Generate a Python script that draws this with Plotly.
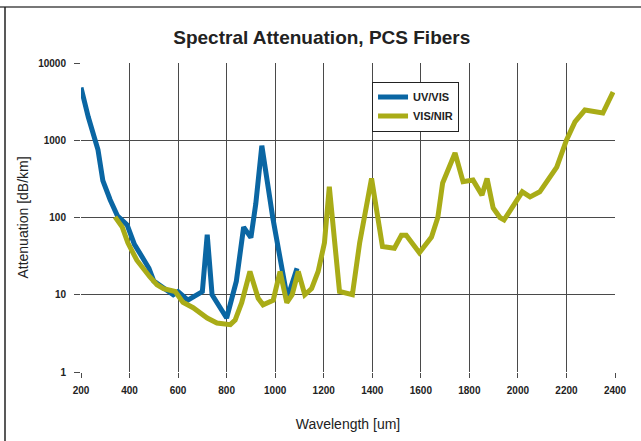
import plotly.graph_objects as go

uv_x = [200, 230, 270, 290, 320, 350, 390, 420, 460, 480, 500, 530, 560, 580, 600, 640, 700, 720, 740, 800, 840, 870, 900, 920, 945, 990, 1050, 1090]
uv_y = [4800, 2000, 750, 300, 170, 105, 80, 45, 28, 22, 15, 13, 11, 10, 11, 8.5, 11, 60, 10, 5, 15, 75, 55, 150, 850, 100, 9, 22]

nir_x = [340, 370, 393, 430, 484, 513, 540, 588, 620, 662, 720, 760, 815, 835, 862, 896, 930, 950, 992, 1020, 1048, 1070, 1095, 1122, 1150, 1177, 1203, 1223, 1265, 1318, 1348, 1397, 1442, 1491, 1520, 1540, 1594, 1644, 1670, 1690, 1741, 1774, 1815, 1852, 1873, 1898, 1926, 1943, 2018, 2050, 2090, 2160, 2200, 2235, 2276, 2350, 2392]
nir_y = [102, 75, 47, 28, 17, 13.5, 12, 11, 8, 6.8, 5.0, 4.3, 4.1, 4.7, 7.9, 20, 9, 7.4, 8.5, 20, 7.9, 10, 20, 10, 12, 20, 47, 250, 11, 10, 47, 320, 42, 40, 59, 59, 35, 56, 100, 280, 685, 290, 305, 195, 320, 133, 100, 93, 215, 185, 215, 450, 1000, 1730, 2460, 2250, 4200]

x_ticks = [200, 400, 600, 800, 1000, 1200, 1400, 1600, 1800, 2000, 2200, 2400]
y_ticks = [1, 10, 100, 1000, 10000]
y_labels = ["1", "10", "100", "1000", "10000"]

fig = go.Figure()
fig.add_trace(go.Scatter(x=uv_x, y=uv_y, mode="lines", name="<b>UV/VIS</b>",
                         line=dict(color="#0a66a3", width=5)))
fig.add_trace(go.Scatter(x=nir_x, y=nir_y, mode="lines", name="<b>VIS/NIR</b>",
                         line=dict(color="#a9ac17", width=5)))

font_family = "Liberation Sans, Arial, sans-serif"
fig.update_layout(
    width=641, height=441,
    margin=dict(l=81, r=26, t=63, b=69, autoexpand=False),
    paper_bgcolor="white", plot_bgcolor="white",
    title=dict(text="<b>Spectral Attenuation, PCS Fibers</b>", x=0.502, xanchor="center",
               xref="container", yref="container", y=0.916, yanchor="middle",
               font=dict(family=font_family, size=19, color="#222"), automargin=False),
    font=dict(family=font_family, color="#222"),
    showlegend=True,
    legend=dict(x=0.545, y=0.94, xanchor="left", yanchor="top",
                bgcolor="white", bordercolor="#222", borderwidth=1,
                font=dict(family=font_family, size=11, color="#222"),
                itemwidth=30, tracegroupgap=0),
    xaxis=dict(range=[200, 2400], tickvals=x_ticks,
               ticktext=[f"<b>{v}</b>" for v in x_ticks],
               showgrid=True, gridcolor="#4a4a4a", gridwidth=1,
               ticks="outside", ticklen=5, tickcolor="#4a4a4a",
               zeroline=False, showline=False, automargin=False,
               ticklabelstandoff=4,
               tickfont=dict(size=10, color="#222"),
               title=dict(text="Wavelength [um]", font=dict(size=14, color="#222"), standoff=24)),
    yaxis=dict(type="log", range=[0, 4], tickvals=y_ticks,
               ticktext=[f"<b>{v}</b>" for v in y_labels],
               showgrid=True, gridcolor="#4a4a4a", gridwidth=1,
               ticks="outside", ticklen=6, tickcolor="#4a4a4a",
               zeroline=False, showline=False, automargin=False,
               ticklabelstandoff=6,
               tickfont=dict(size=10, color="#222"),
               title=dict(text="Attenuation [dB/km]", font=dict(size=14, color="#222"), standoff=6)),
)

fig.add_shape(type="line", xref="paper", yref="paper", x0=-81/534, x1=(641-81)/534,
              y0=1 + (63-7)/309, y1=1 + (63-7)/309, line=dict(color="#777", width=2))
fig.add_shape(type="line", xref="paper", yref="paper", x0=-(81-5)/534, x1=-(81-5)/534,
              y0=1 + (63-7)/309, y1=-(441-372)/309, line=dict(color="#222", width=1.5))

fig.write_html("out.html", config={"displayModeBar": False},
               post_script="document.body.style.margin='0';document.body.style.overflow='hidden';")
